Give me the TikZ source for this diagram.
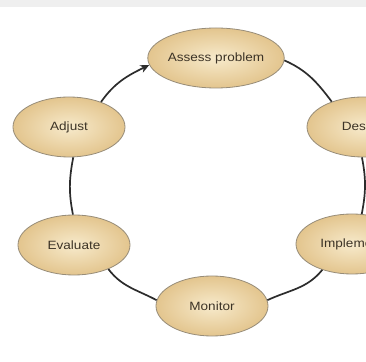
\documentclass[tikz,border=0pt]{standalone}
\usepackage{fontspec}
\setmainfont{Liberation Sans}[FakeStretch=1.13]
\usetikzlibrary{shapes.geometric,arrows.meta}
\definecolor{ellin}{HTML}{F7EACB}
\definecolor{ellout}{HTML}{E3C58E}
\definecolor{ellborder}{HTML}{978C78}
\definecolor{txt}{HTML}{3C3326}
\definecolor{linec}{HTML}{2C2C2C}
\definecolor{strip}{HTML}{EFEFEF}
\begin{document}
\begin{tikzpicture}[x=1pt,y=1pt,
  stage/.style={ellipse, minimum width=112pt, minimum height=60pt, inner sep=0pt,
    shade, inner color=ellin, outer color=ellout, draw=ellborder, line width=0.8pt,
    text=txt, font=\fontsize{12}{14}\selectfont},
  link/.style={draw=linec, line width=1.7pt}]
\useasboundingbox (0,0) rectangle (366,361);
\clip (0,0) rectangle (366,361);
\fill[white] (0,0) rectangle (366,361);
\fill[strip] (0,354) rectangle (366,361);
\node[stage] (assess) at (216,303) {Assess problem};
\node[stage] (des) at (363,234) {Design};
\node[stage] (impl) at (352,117) {Implement};
\node[stage] (monitor) at (212,55) {Monitor};
\node[stage] (evaluate) at (74,116) {Evaluate};
\node[stage] (adjust) at (69,234) {Adjust};
\draw[link,-{Stealth[length=9pt,width=8pt]}] (adjust.38) to[out=55,in=206] (assess.186);
\draw[link] (assess.-2) to[out=-24,in=127] (des.141);
\draw[link] (des.268) to[out=-79,in=79] (impl.72);
\draw[link] (impl.221) to[out=-129,in=25] (monitor.6);
\draw[link] (monitor.174) to[out=152,in=-53] (evaluate.-35);
\draw[link] (evaluate.92) to[out=101,in=259] (adjust.278);
\end{tikzpicture}
\end{document}
